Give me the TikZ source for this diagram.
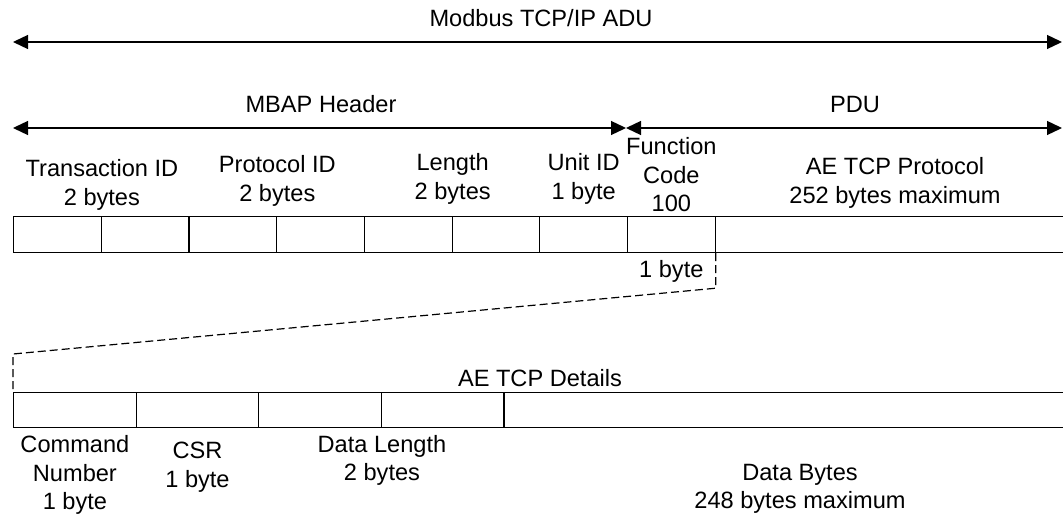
\documentclass[tikz,border=0pt]{standalone}
\usepackage{fontspec}
\setmainfont{Liberation Sans}
\usetikzlibrary{arrows.meta,calc}
\begin{document}
\begin{tikzpicture}[x=1pt,y=-1pt,
  cell/.style={draw, line width=1.2pt, minimum height=36pt, inner sep=0pt, anchor=north west},
  lbl/.style={font=\fontsize{23.6}{28.5}\selectfont, align=center, inner sep=0pt},
  span/.style={line width=1.3pt, {Triangle[length=15pt,width=14pt]}-{Triangle[length=15pt,width=14pt]}},
  link/.style={line width=1.2pt, dash pattern=on 8pt off 4pt}]
\useasboundingbox (0,0) rectangle (1063,516);

% MBAP + function code byte cells
\foreach \i in {1,...,8}
  \node[cell, minimum width=87.7pt] (h\i) at ({13+87.7*(\i-1)},216) {};
\node[cell, minimum width=360pt] (h9) at (714.6,216) {};

% AE TCP detail cells
\foreach \i in {1,...,4}
  \node[cell, minimum width=122.6pt, minimum height=35pt] (b\i) at ({13+122.6*(\i-1)},392) {};
\node[cell, minimum width=570pt, minimum height=35pt] (b5) at (503.4,392) {};

% span arrows
\coordinate (adu-l) at (13,42);
\coordinate (adu-r) at (1062,42);
\coordinate (mbap-l) at (13,128);
\coordinate (mid) at (626,128);
\coordinate (pdu-r) at (1062,128);
\draw[span] (adu-l) -- (adu-r);
\draw[span] (mbap-l) -- (mid);
\draw[span] (mid) -- (pdu-r);

\node[lbl] (adu) at (541,18) {Modbus TCP/IP ADU};
\node[lbl] (mbap) at (321,104) {MBAP Header};
\node[lbl] (pdu) at (855,104) {PDU};

% field labels
\node[lbl] (tid) at ($(h1.north east)+(0,-31)$) {Transaction ID\\2 bytes};
\node[lbl] (pid) at ($(h3.north east)+(0,-35)$) {Protocol ID\\2 bytes};
\node[lbl] (len) at ($(h5.north east)+(0,-37)$) {Length\\2 bytes};
\node[lbl] (uid) at ($(h7.north)+(0,-37)$) {Unit ID\\1 byte};
\node[lbl] (fc) at ($(h8.north)+(0,-41)$) {Function\\Code\\100};
\node[lbl] (aep) at (895,183) {AE TCP Protocol\\252 bytes maximum};
\node[lbl] (fcb) at ($(h8.south)+(0,18)$) {1 byte};

% zoom-out link from the function code byte
\coordinate (k1) at ($(h8.south east)+(0,35)$);
\coordinate (k2) at ($(b1.north west)+(0,-38)$);
\draw[link] (h8.south east) -- (k1) -- (k2) -- (b1.north west);

\node[lbl] (det) at (540,378) {AE TCP Details};
\node[lbl] (cmd) at ($(b1.south)+(0,47)$) {Command\\Number\\1 byte};
\node[lbl] (csr) at ($(b2.south)+(0,39)$) {CSR\\1 byte};
\node[lbl] (dlen) at ($(b3.south east)+(0,32)$) {Data Length\\2 bytes};
\node[lbl] (dbytes) at (800,489) {Data Bytes\\248 bytes maximum};
\end{tikzpicture}
\end{document}
